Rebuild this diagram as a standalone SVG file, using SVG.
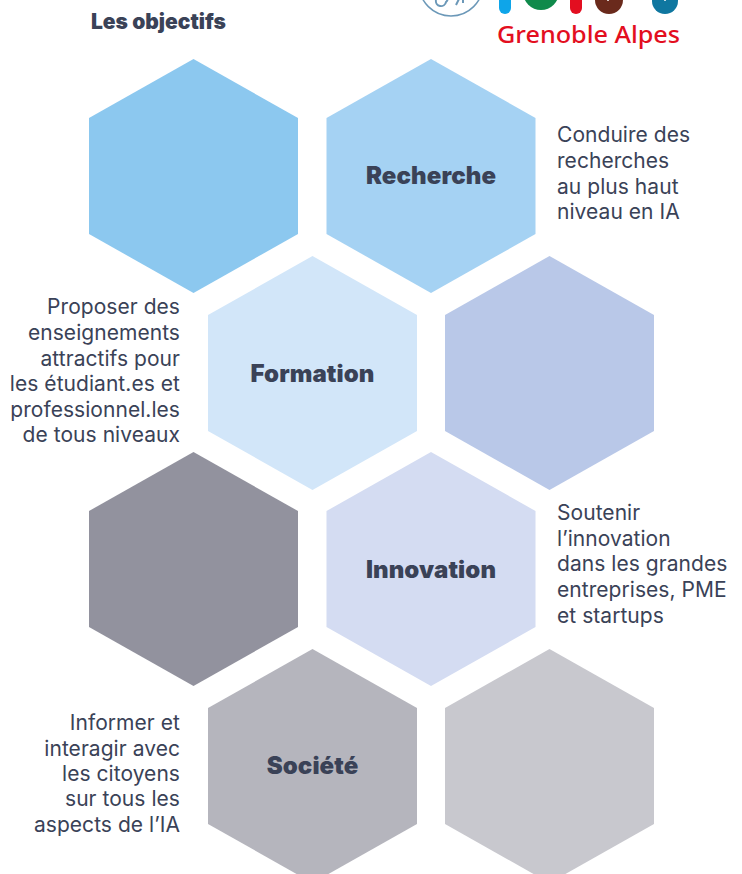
<svg xmlns="http://www.w3.org/2000/svg" width="742" height="874" viewBox="0 0 742 874">
<style>
.h{font:900 24px "Inter","Liberation Sans",sans-serif;fill:#3a4257;text-anchor:middle;letter-spacing:.1px}
.t{font:400 21px "Inter","Liberation Sans",sans-serif;fill:#3a4257;letter-spacing:.05px}
.e{text-anchor:end}
</style>
<defs><polygon id="hex" points="0,-117 104.500,-58 104.500,58 0,117 -104.500,58 -104.500,-58"/></defs>
<rect width="742" height="874" fill="#fff"/>
<g id="logo">
<circle cx="451" cy="-16" r="32" fill="none" stroke="#6b98b8" stroke-width="1.5"/>
<path d="M436 0a5 5 0 0 0 10 2a5 5 0 0 0 1-6M456 5l4-8M463 3v-6" fill="none" stroke="#6b98b8" stroke-width="2"/>
<rect x="499" y="-10" width="12" height="24" rx="6" fill="#0ea5e9"/>
<circle cx="541" cy="-8" r="18" fill="#0f8a4b"/>
<rect x="570" y="-10" width="12" height="24" rx="6" fill="#e30e20"/>
<circle cx="609" cy="0" r="14" fill="#6a2a1c"/>
<circle cx="608" cy="0" r="1" fill="#fff"/>
<circle cx="665" cy="1" r="13" fill="#0f77a0"/>
<circle cx="665" cy="0" r="1" fill="#fff"/>
<text x="497" y="43" font-family="'Noto Sans',sans-serif" font-weight="500" font-size="23" fill="#e30e20" textLength="183" lengthAdjust="spacingAndGlyphs">Grenoble Alpes</text>
</g>
<text id="title" x="91" y="29" font-family="Inter,'Liberation Sans',sans-serif" font-weight="900" font-size="21" fill="#3a4257">Les objectifs</text>
<g id="nodes">
<g id="h1"><use href="#hex" x="193.500" y="176" fill="#8cc8ef"/></g>
<g id="recherche"><use href="#hex" x="431" y="176" fill="#a5d2f3"/><text class="h" x="431" y="184">Recherche</text></g>
<g id="formation"><use href="#hex" x="312.500" y="373" fill="#d2e6f9"/><text class="h" x="312.500" y="382">Formation</text></g>
<g id="h2"><use href="#hex" x="549.500" y="373" fill="#b9c8e8"/></g>
<g id="h3"><use href="#hex" x="193.500" y="569" fill="#92929e"/></g>
<g id="innovation"><use href="#hex" x="431" y="569" fill="#d4dcf2"/><text class="h" x="431" y="578">Innovation</text></g>
<g id="societe"><use href="#hex" x="312.500" y="766" fill="#b5b5bd"/><text class="h" x="312.500" y="774">Société</text></g>
<g id="h4"><use href="#hex" x="549.500" y="766" fill="#c8c8ce"/></g>
</g>
<g id="labels">
<text class="t" x="557" y="142">Conduire des</text>
<text class="t" x="557" y="168">recherches</text>
<text class="t" x="557" y="194">au plus haut</text>
<text class="t" x="557" y="219">niveau en IA</text>
<text class="t e" x="180" y="314">Proposer des</text>
<text class="t e" x="180" y="340">enseignements</text>
<text class="t e" x="180" y="366">attractifs pour</text>
<text class="t e" x="180" y="391">les étudiant.es et</text>
<text class="t e" x="180" y="417">professionnel.les</text>
<text class="t e" x="180" y="442">de tous niveaux</text>
<text class="t" x="557" y="520">Soutenir</text>
<text class="t" x="557" y="546">l’innovation</text>
<text class="t" x="557" y="571">dans les grandes</text>
<text class="t" x="557" y="597">entreprises, PME</text>
<text class="t" x="557" y="623">et startups</text>
<text class="t e" x="180" y="730">Informer et</text>
<text class="t e" x="180" y="756">interagir avec</text>
<text class="t e" x="180" y="781">les citoyens</text>
<text class="t e" x="180" y="806">sur tous les</text>
<text class="t e" x="180" y="832">aspects de l’IA</text>
</g>
</svg>
